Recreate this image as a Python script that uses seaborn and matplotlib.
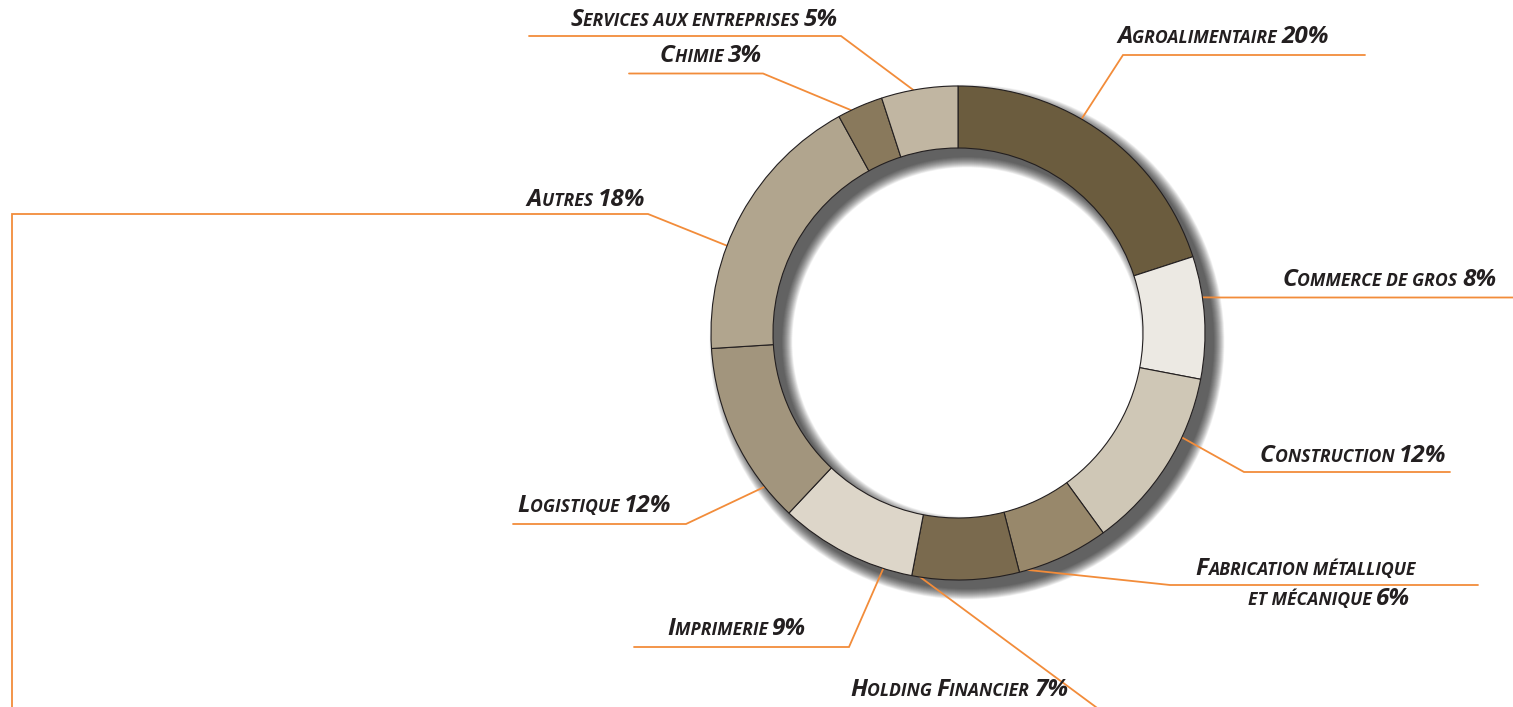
import matplotlib
matplotlib.use('Agg')
import matplotlib.pyplot as plt
import seaborn as sns
import numpy as np
from matplotlib.offsetbox import TextArea, HPacker, AnnotationBbox

#---data
sectors = ['Agroalimentaire', 'Commerce de gros', 'Construction',
           'Fabrication métallique et mécanique', 'Holding Financier',
           'Imprimerie', 'Logistique', 'Autres', 'Chimie',
           'Services aux entreprises']
shares = [20, 8, 12, 6, 7, 9, 12, 18, 3, 5]
colors = ['#6b5c3e', '#ece9e3', '#cfc7b6', '#98886b', '#7a6a4e',
          '#ddd6c9', '#a2957d', '#b1a58e', '#89795c', '#c1b6a2']

#---layout (figure in pixel units, y goes down)
W, H = 1513, 707
cx, cy = 958, 333
R_out, ring_w = 247, 62
orange = '#f28c3a'
ink = '#231f20'
big, small = 17.5, 12.7

# label layout: text lines (string, anchor x, baseline y, ha), where the leader
# leaves the ring (screen angle, deg), elbow point, line end
label_layout = [
    dict(lines=[('Agroalimentaire 20%', 1117, 45, 'left')], ang=60, elbow=(1123, 55), end=(1365, 55)),
    dict(lines=[('Commerce de gros 8%', 1496, 288, 'right')], ang=8.3, elbow=(1222, 297.5), end=(1513, 297.5)),
    dict(lines=[('Construction 12%', 1260, 464, 'left')], ang=-25, elbow=(1244, 472), end=(1450, 472)),
    dict(lines=[('Fabrication métallique', 1195, 577, 'left'),
                ('et mécanique 6%', 1410, 607, 'right')], ang=-52, elbow=(1170, 585), end=(1478, 585)),
    dict(lines=[('Holding Financier 7%', 850, 698, 'left')], ang=-75, elbow=(1108, 716), end=(1200, 716)),
    dict(lines=[('Imprimerie 9%', 667, 637, 'left')], ang=-107.6, elbow=(849, 647), end=(634, 647)),
    dict(lines=[('Logistique 12%', 517, 514, 'left')], ang=-141.5, elbow=(686, 524), end=(513, 524)),
    dict(lines=[('Autres 18%', 645, 208, 'right')], ang=159.3, elbow=(648, 214), end=(12, 214), drop=(12, 720)),
    dict(lines=[('Chimie 3%', 762, 64, 'right')], ang=115.6, elbow=(763, 73.5), end=(629, 73.5)),
    dict(lines=[('Services aux entreprises 5%', 838, 28, 'right')], ang=100.4, elbow=(841, 36), end=(529, 36)),
]

sns.set_theme(style='white')
plt.rcParams['font.family'] = ['Open Sans', 'DejaVu Sans']

fig = plt.figure(figsize=(W / 100, H / 100), dpi=100)
ax = fig.add_axes([0, 0, 1, 1])

#-soft drop shadow, offset down-right (stack of faint rings = cheap blur)
for k in range(22):
    s = k * 0.5
    ax.pie([1], radius=R_out + s, center=(cx + 9, cy + 9),
           wedgeprops=dict(width=ring_w + 2 * s, facecolor='black', alpha=0.04,
                           linewidth=0, zorder=0.3))

#-the ring (y axis is inverted, so counterclock in data = clockwise on screen)
wedges, _ = ax.pie(shares, colors=colors, radius=R_out, center=(cx, cy),
                   startangle=-90, counterclock=True,
                   wedgeprops=dict(width=ring_w, edgecolor=ink, linewidth=0.8))

ax.set_xlim(0, W)
ax.set_ylim(H, 0)
ax.set_aspect('equal')
ax.axis('off')


def small_caps(txt):
    #-fake small caps: capitals/digits big, lower case letters as smaller capitals
    parts = []
    for ch in txt:
        size = small if (ch.islower() or ch == ' ') else big
        if parts and parts[-1][1] == size:
            parts[-1][0] += ch.upper()
        else:
            parts.append([ch.upper(), size])
    kids = [TextArea(p, textprops=dict(fontsize=sz, fontweight='bold', fontstyle='italic', color=ink))
            for p, sz in parts]
    return HPacker(children=kids, align='baseline', pad=0, sep=0)


for w, lay in zip(wedges, label_layout):
    #-keep the leader inside its own slice (data angles are the screen angles negated)
    lo, hi = sorted((-w.theta1, -w.theta2))
    ang = np.clip(lay['ang'] if lay['ang'] <= hi else lay['ang'] - 360, lo + 2, hi - 2)
    a = np.deg2rad(-ang)
    start = (cx + R_out * np.cos(a), cy + R_out * np.sin(a))
    xs = [start[0], lay['elbow'][0], lay['end'][0]]
    ys = [start[1], lay['elbow'][1], lay['end'][1]]
    if 'drop' in lay:
        xs.append(lay['drop'][0])
        ys.append(lay['drop'][1])
    ax.plot(xs, ys, color=orange, lw=1.3, solid_joinstyle='miter', clip_on=False, zorder=0.6)
    for txt, tx, ty, ha in lay['lines']:
        box = small_caps(txt)
        ab = AnnotationBbox(box, (tx, ty + 4), xycoords='data', frameon=False, pad=0,
                            box_alignment=(0 if ha == 'left' else 1, 0), annotation_clip=False)
        ax.add_artist(ab)

fig.savefig('out.png', dpi=100, facecolor='white')
